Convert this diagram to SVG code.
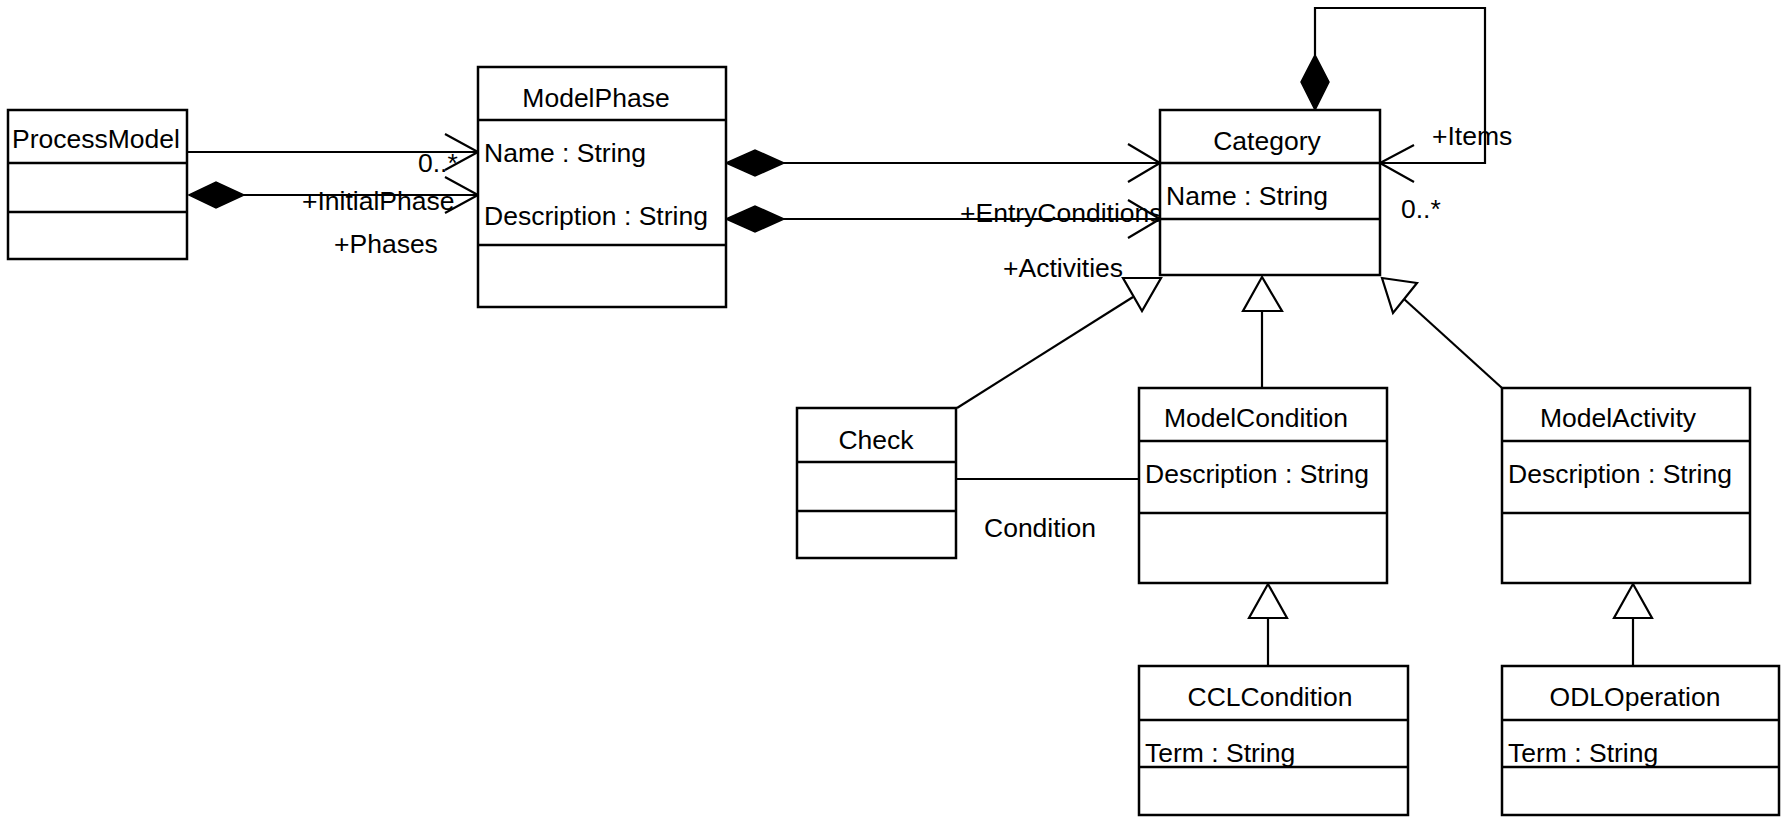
<svg xmlns="http://www.w3.org/2000/svg" width="1782" height="818" viewBox="0 0 1782 818">
  <style>
    .box { fill: #ffffff; stroke: #000000; stroke-width: 2.5; }
    .sep { stroke: #000000; stroke-width: 2.5; }
    .t { font-family: "Liberation Sans", Arial, sans-serif; font-size: 26.5px; fill: #000000; }
    .mid { text-anchor: middle; }
    .ln { fill: none; stroke: #000000; stroke-width: 2.2; }
    .dia { fill: #000000; stroke: #000000; stroke-width: 1.5; }
    .tri { fill: #ffffff; stroke: #000000; stroke-width: 2.2; }
  </style>
  <rect width="1782" height="818" fill="#ffffff"/>

  <!-- connectors -->
  <g id="connectors">
    <!-- ProcessModel -> ModelPhase -->
    <line class="ln" x1="187" y1="152" x2="478" y2="152"/>
    <polyline class="ln" points="445,134 478,152 445,170"/>
    <line class="ln" x1="244" y1="195" x2="478" y2="195"/>
    <polygon class="dia" points="189,195 216,182 244,195 216,208"/>
    <polyline class="ln" points="445,177 478,195 445,213"/>

    <!-- ModelPhase -> Category -->
    <line class="ln" x1="784" y1="163" x2="1160" y2="163"/>
    <polygon class="dia" points="726,163 755,150 784,163 755,176"/>
    <polyline class="ln" points="1128,144 1160,163 1128,182"/>
    <line class="ln" x1="784" y1="219" x2="1160" y2="219"/>
    <polygon class="dia" points="726,219 755,206 784,219 755,232"/>
    <polyline class="ln" points="1128,200 1160,219 1128,238"/>

    <!-- Category self composition -->
    <polyline class="ln" points="1315,55 1315,8 1485,8 1485,163 1380,163"/>
    <polygon class="dia" points="1315,110 1301,82 1315,55 1329,82"/>
    <polyline class="ln" points="1414,145 1380,163 1414,182"/>

    <!-- generalizations to Category -->
    <line class="ln" x1="957" y1="408" x2="1133" y2="297"/>
    <polygon class="tri" points="1123,278 1161,278 1142,311"/>
    <line class="ln" x1="1262" y1="311" x2="1262" y2="388"/>
    <polygon class="tri" points="1262,277 1243,311 1282,311"/>
    <line class="ln" x1="1404" y1="299" x2="1502" y2="388"/>
    <polygon class="tri" points="1382,278 1417,283 1393,313"/>

    <!-- Check - ModelCondition -->
    <line class="ln" x1="957" y1="479" x2="1139" y2="479"/>

    <!-- generalizations to ModelCondition / ModelActivity -->
    <line class="ln" x1="1268" y1="618" x2="1268" y2="666"/>
    <polygon class="tri" points="1268,584 1249,618 1287,618"/>
    <line class="ln" x1="1633" y1="618" x2="1633" y2="666"/>
    <polygon class="tri" points="1633,584 1614,618 1652,618"/>

    <!-- connector labels -->
    <text class="t" x="418" y="172">0..*</text>
    <text class="t" x="302" y="210">+InitialPhase</text>
    <text class="t" x="334" y="253">+Phases</text>
    <text class="t" x="960" y="222">+EntryConditions</text>
    <text class="t" x="1003" y="277">+Activities</text>
    <text class="t" x="1432" y="145">+Items</text>
    <text class="t" x="1401" y="218">0..*</text>
    <text class="t" x="984" y="537">Condition</text>
  </g>

  <g id="ProcessModel">
    <rect class="box" x="8" y="110" width="179" height="149"/>
    <line class="sep" x1="8" y1="163" x2="187" y2="163"/>
    <line class="sep" x1="8" y1="212" x2="187" y2="212"/>
    <text class="t" x="12" y="148">ProcessModel</text>
  </g>

  <g id="ModelPhase">
    <rect class="box" x="478" y="67" width="248" height="240"/>
    <line class="sep" x1="478" y1="120" x2="726" y2="120"/>
    <line class="sep" x1="478" y1="245" x2="726" y2="245"/>
    <text class="t mid" x="596" y="107">ModelPhase</text>
    <text class="t" x="484" y="162">Name : String</text>
    <text class="t" x="484" y="225">Description : String</text>
  </g>

  <g id="Category">
    <rect class="box" x="1160" y="110" width="220" height="165"/>
    <line class="sep" x1="1160" y1="163" x2="1380" y2="163"/>
    <line class="sep" x1="1160" y1="219" x2="1380" y2="219"/>
    <text class="t mid" x="1267" y="150">Category</text>
    <text class="t" x="1166" y="205">Name : String</text>
  </g>

  <g id="Check">
    <rect class="box" x="797" y="408" width="159" height="150"/>
    <line class="sep" x1="797" y1="462" x2="956" y2="462"/>
    <line class="sep" x1="797" y1="511" x2="956" y2="511"/>
    <text class="t mid" x="876" y="449">Check</text>
  </g>

  <g id="ModelCondition">
    <rect class="box" x="1139" y="388" width="248" height="195"/>
    <line class="sep" x1="1139" y1="441" x2="1387" y2="441"/>
    <line class="sep" x1="1139" y1="513" x2="1387" y2="513"/>
    <text class="t mid" x="1256" y="427">ModelCondition</text>
    <text class="t" x="1145" y="483">Description : String</text>
  </g>

  <g id="ModelActivity">
    <rect class="box" x="1502" y="388" width="248" height="195"/>
    <line class="sep" x1="1502" y1="441" x2="1750" y2="441"/>
    <line class="sep" x1="1502" y1="513" x2="1750" y2="513"/>
    <text class="t mid" x="1618" y="427">ModelActivity</text>
    <text class="t" x="1508" y="483">Description : String</text>
  </g>

  <g id="CCLCondition">
    <rect class="box" x="1139" y="666" width="269" height="149"/>
    <line class="sep" x1="1139" y1="720" x2="1408" y2="720"/>
    <line class="sep" x1="1139" y1="767" x2="1408" y2="767"/>
    <text class="t mid" x="1270" y="706">CCLCondition</text>
    <text class="t" x="1145" y="762">Term : String</text>
  </g>

  <g id="ODLOperation">
    <rect class="box" x="1502" y="666" width="277" height="149"/>
    <line class="sep" x1="1502" y1="720" x2="1779" y2="720"/>
    <line class="sep" x1="1502" y1="767" x2="1779" y2="767"/>
    <text class="t mid" x="1635" y="706">ODLOperation</text>
    <text class="t" x="1508" y="762">Term : String</text>
  </g>
</svg>
